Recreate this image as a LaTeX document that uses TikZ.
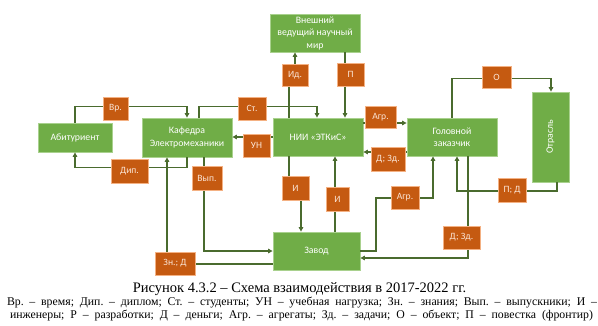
\documentclass[tikz,border=0pt]{standalone}
\usepackage{fontspec}
\setmainfont{Liberation Serif}
\newfontfamily\boxfont{Carlito}
\usetikzlibrary{arrows.meta}
\definecolor{gfill}{HTML}{70AD47}
\definecolor{gline}{HTML}{A9D18E}
\definecolor{ofill}{HTML}{C55A11}
\definecolor{oline}{HTML}{F4B183}
\definecolor{conn}{HTML}{4A6B2E}
\definecolor{otext}{HTML}{FBE5D6}
\tikzset{
  gbox/.style={draw=gline, fill=gfill, line width=0.8pt, text=white, font=\boxfont\fontsize{9.8}{12.5}\selectfont, align=center, inner sep=1pt},
  obox/.style={draw=oline, fill=ofill, line width=0.6pt, text=otext, font=\boxfont\fontsize{9.6}{11}\selectfont, align=center, inner sep=1pt},
  arr/.style={draw=conn, line width=1.4pt, -{Triangle[length=4.5pt,width=4.5pt]}},
  capt/.style={font=\fontsize{14.5}{16}\selectfont, anchor=base, inner sep=0pt},
  legend/.style={font=\frenchspacing\fontsize{11.8}{13}\selectfont, anchor=base, inner sep=0pt}
}
\begin{document}
\begin{tikzpicture}[x=1pt,y=-1pt]
\useasboundingbox[fill=white] (0,0) rectangle (598,325);
% boxes
\node[gbox, minimum width=90pt, minimum height=38pt] (ext) at (315,33) {Внешний\\ведущий научный\\мир};
\node[gbox, minimum width=74pt, minimum height=29pt] (abit) at (75,137.5) {Абитуриент};
\node[gbox, minimum width=90pt, minimum height=39pt] (kaf) at (187,137.5) {Кафедра\\Электромеханики};
\node[gbox, minimum width=90pt, minimum height=38pt] (nii) at (318,137) {НИИ «ЭТКиС»};
\node[gbox, minimum width=90pt, minimum height=38pt] (gol) at (452,137) {Головной\\заказчик};
\node[gbox, minimum width=37pt, minimum height=90pt] (otr) at (550.5,137) {};
\node[text=white, font=\boxfont\fontsize{9.8}{11}\selectfont, rotate=90] (otrt) at (otr.center) {Отрасль};
\node[gbox, minimum width=87pt, minimum height=38pt] (zav) at (316.5,251) {Завод};
% connectors
\draw[arr] (abit.north) -- ++(0,-16) -| (kaf.north);
\draw[arr] (kaf.south) -- ++(0,10) -| (abit.south);
\draw[arr] (kaf.north -| 199,0) -- ++(0,-11) -| (nii.north -| 317,0);
\draw[arr] (nii.north -| 289,0) -- (289,75) -- (295,75) -- (ext.south -| 295,0);
\draw[arr] (ext.south -| 345,0) -- (nii.north -| 345,0);
\draw[arr] (nii.east |- 0,123) -- (gol.west |- 0,123);
\draw[arr] (gol.west |- 0,152) -- (nii.east |- 0,152);
\draw[arr] (nii.west |- 0,137) -- (kaf.east |- 0,137);
\draw[arr] (nii.south -| 289,0) -- (289,188) -- (301,188) -- (zav.north -| 301,0);
\draw[arr] (zav.north -| 335,0) -- (nii.south -| 335,0);
\draw[arr] (kaf.south -| 204,0) |- (zav.west);
\draw[arr] (zav.west |- 0,264) -| (kaf.south -| 167,0);
\draw[arr] (zav.east) -| (376,198) -| (gol.south -| 433,0);
\draw[arr] (gol.south -| 468,0) |- (zav.east |- 0,258);
\draw[arr] (otr.south -| 557,0) |- (457,191) -- (gol.south -| 457,0);
\draw[arr] (gol.north) -- ++(0,-39) -| (otr.north -| 551,0);
% labels
\node[obox, minimum width=26pt, minimum height=22pt] (id) at (295,75) {Ид.};
\node[obox, minimum width=27pt, minimum height=23pt] (p1) at (350.5,74.5) {П};
\node[obox, minimum width=25pt, minimum height=23pt] (vr) at (115.5,108.5) {Вр.};
\node[obox, minimum width=28pt, minimum height=23pt] (st) at (252,108.5) {Ст.};
\node[obox, minimum width=31pt, minimum height=22pt] (agr1) at (380.5,117) {Агр.};
\node[obox, minimum width=29pt, minimum height=22pt] (o) at (496.5,77) {О};
\node[obox, minimum width=27pt, minimum height=23pt] (un) at (256.5,145.5) {УН};
\node[obox, minimum width=37pt, minimum height=24pt] (dip) at (129.5,171) {Дип.};
\node[obox, minimum width=30pt, minimum height=24pt] (vyp) at (207,178) {Вып.};
\node[obox, minimum width=27pt, minimum height=24pt] (i1) at (295.5,188) {И};
\node[obox, minimum width=23pt, minimum height=24pt] (i2) at (337.5,199) {И};
\node[obox, minimum width=34pt, minimum height=24pt] (dz1) at (388,159) {Д; Зд.};
\node[obox, minimum width=28pt, minimum height=23pt] (agr2) at (405,197.5) {Агр.};
\node[obox, minimum width=28pt, minimum height=24pt] (pd) at (512,190) {П; Д};
\node[obox, minimum width=37pt, minimum height=23pt] (dz2) at (461.5,237.5) {Д; Зд.};
\node[obox, minimum width=40pt, minimum height=23pt] (znd) at (175,263.5) {Зн.; Д};
% caption
\node[capt] (cap) at (299.5,292) {Рисунок 4.3.2 – Схема взаимодействия в 2017-2022 гг.};
\node[legend] (leg1) at (302,305) {\makebox[590pt][s]{Вр. – время; Дип. – диплом; Ст. – студенты; УН – учебная нагрузка; Зн. – знания; Вып. – выпускники; И –}};
\node[legend] (leg2) at (301.5,318) {\makebox[583pt][s]{инженеры; Р – разработки; Д – деньги; Агр. – агрегаты; Зд. – задачи; О – объект; П – повестка (фронтир)}};
\end{tikzpicture}
\end{document}
